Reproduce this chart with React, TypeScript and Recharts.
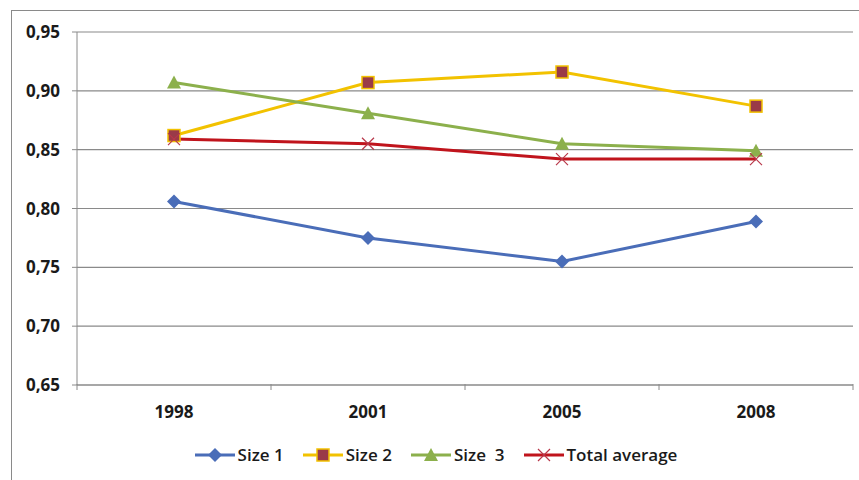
import React from 'react';
import { LineChart, Line, XAxis, YAxis, CartesianGrid, Legend } from 'recharts';

const YEARS = ['1998', '2001', '2005', '2008'];
const SIZE_1 = [0.806, 0.775, 0.755, 0.789];
const SIZE_2 = [0.862, 0.907, 0.916, 0.887];
const SIZE_3 = [0.907, 0.881, 0.855, 0.849];
const TOTAL_AVERAGE = [0.859, 0.855, 0.842, 0.842];
const Y_TICKS = [0.65, 0.7, 0.75, 0.8, 0.85, 0.9, 0.95];

const data = YEARS.map((year, i) => ({
  year,
  size1: SIZE_1[i],
  size2: SIZE_2[i],
  size3: SIZE_3[i],
  total: TOTAL_AVERAGE[i],
}));

const WIDTH = 847;
const HEIGHT = 469;
const MARGIN = { top: 21, right: 6, bottom: 65, left: 5 };
const Y_AXIS_WIDTH = 60;
const PLOT_WIDTH = WIDTH - MARGIN.left - MARGIN.right - Y_AXIS_WIDTH;
const HALF_BAND = PLOT_WIDTH / YEARS.length / 2;

const FONT = '"Open Sans", Arial, sans-serif';
const AXIS_GRAY = '#8a8a8a';

const COLORS = {
  size1: '#4a6db8',
  size2: '#f2c200',
  size2Fill: '#9a3a48',
  size3: '#8cb04c',
  total: '#c0141c',
  totalMark: '#b8384a',
};

type DotProps = { cx?: number; cy?: number; index?: number };

const Diamond = ({ cx = 0, cy = 0 }: DotProps) => (
  <path d={`M${cx},${cy - 7} L${cx + 7},${cy} L${cx},${cy + 7} L${cx - 7},${cy} Z`} fill={COLORS.size1} />
);

const Square = ({ cx = 0, cy = 0 }: DotProps) => (
  <rect x={cx - 6} y={cy - 6} width={12} height={12} fill={COLORS.size2Fill} stroke={COLORS.size2} strokeWidth={1.5} />
);

const Triangle = ({ cx = 0, cy = 0 }: DotProps) => (
  <path d={`M${cx},${cy - 7} L${cx + 7},${cy + 6} L${cx - 7},${cy + 6} Z`} fill={COLORS.size3} />
);

const Cross = ({ cx = 0, cy = 0 }: DotProps) => (
  <path
    d={`M${cx - 6},${cy - 6} L${cx + 6},${cy + 6} M${cx - 6},${cy + 6} L${cx + 6},${cy - 6}`}
    stroke={COLORS.totalMark}
    strokeWidth={1.2}
    fill="none"
  />
);

// category labels plus Excel-style tick marks between categories
const YearTick = (props: any) => {
  const { x, y, payload, index } = props;
  const top = y - 9;
  return (
    <g>
      <line x1={x - HALF_BAND} y1={top} x2={x - HALF_BAND} y2={top + 6} stroke={AXIS_GRAY} />
      {index === YEARS.length - 1 && (
        <line x1={x + HALF_BAND} y1={top} x2={x + HALF_BAND} y2={top + 6} stroke={AXIS_GRAY} />
      )}
      <text x={x} y={top + 34} textAnchor="middle" fontFamily={FONT} fontWeight={700} fontSize={17} fill="#1a1a1a">
        {payload.value}
      </text>
    </g>
  );
};

const LEGEND_ITEMS = [
  { key: 'size1', label: 'Size 1', color: COLORS.size1, Mark: Diamond },
  { key: 'size2', label: 'Size 2', color: COLORS.size2, Mark: Square },
  { key: 'size3', label: 'Size  3', color: COLORS.size3, Mark: Triangle },
  { key: 'total', label: 'Total average', color: COLORS.total, Mark: Cross },
];

const LegendContent = () => (
  <div style={{ display: 'flex', justifyContent: 'center', fontFamily: FONT, fontWeight: 600, fontSize: 17 }}>
    {LEGEND_ITEMS.map(({ key, label, color, Mark }, i) => (
      <div
        key={key}
        style={{ display: 'flex', alignItems: 'center', marginRight: i === LEGEND_ITEMS.length - 1 ? 0 : 18 }}
      >
        <svg width={42} height={16}>
          <line x1={1} y1={8} x2={41} y2={8} stroke={color} strokeWidth={3} />
          <Mark cx={21} cy={8} />
        </svg>
        <span style={{ marginLeft: 2, whiteSpace: 'pre', color: '#1a1a1a' }}>{label}</span>
      </div>
    ))}
  </div>
);

export default function App() {
  return (
    <div
      style={{
        position: 'absolute',
        left: 11,
        top: 10,
        width: WIDTH + 1,
        height: HEIGHT + 1,
        borderLeft: `1px solid ${AXIS_GRAY}`,
        borderTop: `1px solid ${AXIS_GRAY}`,
        background: '#fff',
      }}
    >
      <LineChart width={WIDTH} height={HEIGHT} data={data} margin={MARGIN}>
        <CartesianGrid vertical={false} stroke={AXIS_GRAY} strokeWidth={1.2} />
        <XAxis
          dataKey="year"
          stroke={AXIS_GRAY}
          tickLine={false}
          tick={<YearTick />}
          height={30}
          interval={0}
          padding={{ left: HALF_BAND, right: HALF_BAND }}
        />
        <YAxis
          domain={[0.65, 0.95]}
          ticks={Y_TICKS}
          width={Y_AXIS_WIDTH}
          stroke={AXIS_GRAY}
          tickSize={5}
          tickMargin={12}
          tickFormatter={(v: number) => v.toFixed(2).replace('.', ',')}
          tick={{ fontFamily: FONT, fontWeight: 700, fontSize: 17, fill: '#1a1a1a' }}
          allowDataOverflow
        />
        <Line dataKey="size1" stroke={COLORS.size1} strokeWidth={3} dot={<Diamond />} isAnimationActive={false} />
        <Line dataKey="size2" stroke={COLORS.size2} strokeWidth={3} dot={<Square />} isAnimationActive={false} />
        <Line dataKey="size3" stroke={COLORS.size3} strokeWidth={3} dot={<Triangle />} isAnimationActive={false} />
        <Line dataKey="total" stroke={COLORS.total} strokeWidth={3} dot={<Cross />} isAnimationActive={false} />
        <Legend
          layout="horizontal"
          verticalAlign="middle"
          align="center"
          content={<LegendContent />}
          wrapperStyle={{ top: 432, left: 0, width: WIDTH }}
        />
      </LineChart>
    </div>
  );
}
